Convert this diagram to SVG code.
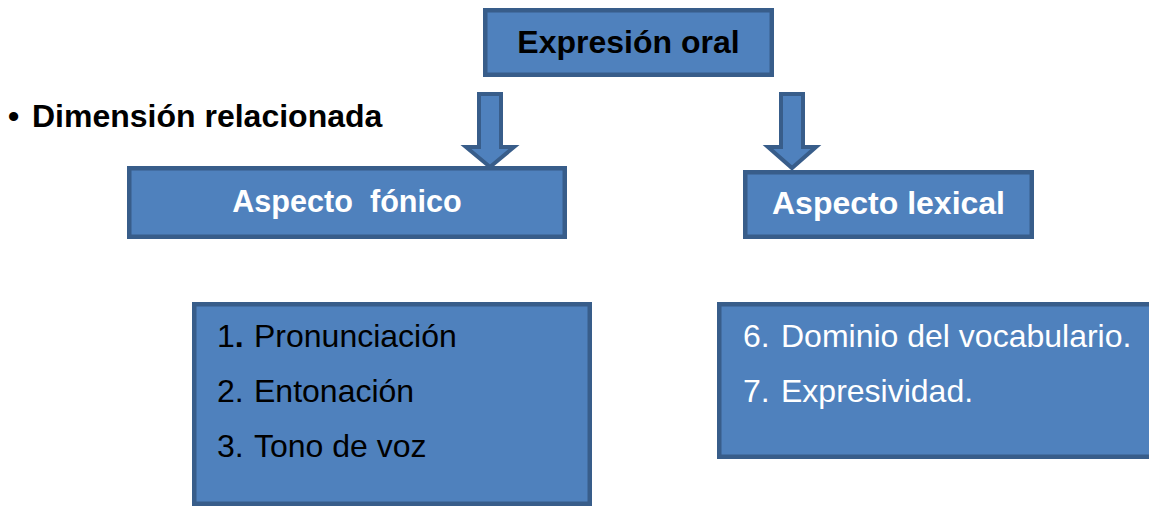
<svg xmlns="http://www.w3.org/2000/svg" width="1149" height="506" viewBox="0 0 1149 506">
<style>
text { font-family: "Liberation Sans", Arial, sans-serif; font-size: 32px; }
.box { fill: #4F81BD; stroke: #385D8A; stroke-width: 4.5; }
.arrow { fill: #4F81BD; stroke: #385D8A; stroke-width: 4; stroke-linejoin: miter; }
.b { font-weight: bold; }
.w { fill: #FFFFFF; }
.k { fill: #000000; }
</style>
<rect width="1149" height="506" fill="#FFFFFF"/>
<g id="bullet">
<text class="b k" x="8" y="127">•<tspan x="32">Dimensión relacionada</tspan></text>
</g>
<g id="connectors">
<path class="arrow" d="M479,94 H501 V147 H514 L490,167 L466,147 H479 Z"/>
<path class="arrow" d="M781,94 H803 V147 H816 L792,168 L768,147 H781 Z"/>
</g>
<g id="expresion-oral">
<rect class="box" x="485.25" y="10.25" width="286.5" height="64.5"/>
<text class="b k" x="628.5" y="53" text-anchor="middle">Expresión oral</text>
</g>
<g id="aspecto-fonico">
<rect class="box" x="129.25" y="168.25" width="435.5" height="68.5"/>
<text class="b w" x="347" y="212" text-anchor="middle" style="font-size:30.6px" xml:space="preserve">Aspecto  fónico</text>
</g>
<g id="aspecto-lexical">
<rect class="box" x="745.25" y="172.25" width="286.5" height="64.5"/>
<text class="b w" x="888.5" y="214" text-anchor="middle">Aspecto lexical</text>
</g>
<g id="lista-fonico">
<rect class="box" x="194.25" y="304.25" width="395.5" height="199.5"/>
<text class="k" x="217" y="347">1<tspan class="b">.</tspan><tspan x="254">Pronunciación</tspan></text>
<text class="k" x="217" y="402">2.<tspan x="254">Entonación</tspan></text>
<text class="k" x="217" y="457">3.<tspan x="254">Tono de voz</tspan></text>
</g>
<g id="lista-lexical">
<rect class="box" x="719.25" y="304.25" width="450" height="152.5"/>
<text class="w" x="743" y="347">6.<tspan x="781">Dominio del vocabulario.</tspan></text>
<text class="w" x="743" y="402">7.<tspan x="781">Expresividad.</tspan></text>
</g>
</svg>
